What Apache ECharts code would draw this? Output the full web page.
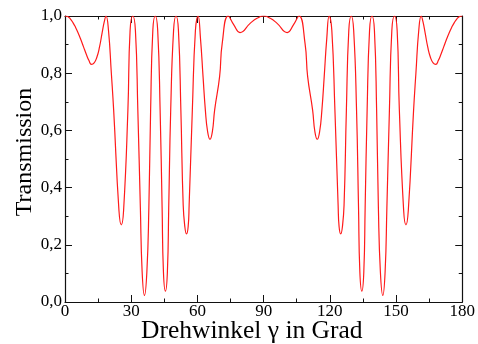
<!DOCTYPE html>
<html>
<head>
<meta charset="utf-8">
<script src="https://cdn.jsdelivr.net/npm/echarts@6/dist/echarts.min.js"></script>
<style>
  html, body { margin: 0; padding: 0; background: #fff; }
  #chart { width: 478px; height: 344px; }
</style>
</head>
<body>
<div id="chart"></div>
<script>
// Rotation angle γ in degrees
const angleDeg = [
  0, 1.2, 2.4, 3.6, 4.8, 6.0, 7.2, 8.4, 9.6, 10.8, 12.0, 13.2, 14.4, 15.6, 16.8, 17.8, 18.6,
  19.7, 21.0, 22.05, 24.45, 25.5, 26.55, 28.5, 29.5, 30.7,
  31.9, 33.0, 34.15, 34.95, 36.0, 37.1, 38.0, 38.8, 39.8, 40.9,
  42.0, 43.1, 44.0, 44.6, 45.5, 46.4, 47.0, 47.9, 49.2, 50.3,
  51.4, 52.5, 53.55, 54.3, 55.05, 55.8, 56.25, 57.7, 59.1, 60.3,
  61.4, 62.55, 63.6, 64.6, 65.7, 66.8, 67.8, 70.05, 71.25, 73.95,
  76.5, 79.3, 84.0, 87.0, 90.0,
  93.0, 96.0, 100.7, 103.5, 106.05,
  108.75, 109.95, 112.2, 113.2, 114.3, 115.4, 116.4, 117.45, 118.6, 119.7,
  120.9, 122.3, 123.75, 124.2, 124.95, 125.7, 126.45, 127.5, 128.6, 129.7,
  130.8, 132.1, 133.0, 133.6, 134.5, 135.4, 136.0, 136.9, 138.0, 139.1,
  140.2, 141.2, 142.0, 142.9, 144.0, 145.05, 145.85, 147.0, 148.1, 149.3,
  150.5, 151.5, 153.45, 154.5, 155.55, 157.95, 159.0, 160.3,
  161.4, 162.2, 163.2, 164.4, 165.6, 166.8, 168.0, 169.2, 170.4, 171.6, 172.8, 174.0, 175.2, 176.4, 177.6, 178.8, 180
];

// Transmission at each angle
const transmission = [
  1.0, 0.998, 0.99, 0.977, 0.96, 0.94, 0.917, 0.892, 0.867, 0.845, 0.831, 0.836, 0.855, 0.89, 0.94, 0.98, 1.0,
  0.95, 0.8, 0.671, 0.32, 0.27, 0.32, 0.671, 0.95, 1.0,
  0.95, 0.671, 0.33, 0.106, 0.023, 0.106, 0.33, 0.671, 0.95, 1.0,
  0.95, 0.671, 0.33, 0.106, 0.038, 0.106, 0.33, 0.671, 0.95, 1.0,
  0.95, 0.671, 0.339, 0.263, 0.238, 0.263, 0.339, 0.671, 0.95, 1.0,
  0.92, 0.788, 0.671, 0.597, 0.569, 0.597, 0.671, 0.788, 0.905, 1.0,
  0.969, 0.942, 0.975, 0.992, 1.0,
  0.992, 0.975, 0.942, 0.969, 1.0,
  0.905, 0.788, 0.671, 0.597, 0.569, 0.597, 0.671, 0.788, 0.92, 1.0,
  0.95, 0.671, 0.339, 0.263, 0.238, 0.263, 0.339, 0.671, 0.95, 1.0,
  0.95, 0.671, 0.33, 0.106, 0.038, 0.106, 0.33, 0.671, 0.95, 1.0,
  0.95, 0.671, 0.33, 0.106, 0.023, 0.106, 0.33, 0.671, 0.95, 1.0,
  0.95, 0.671, 0.32, 0.27, 0.32, 0.671, 0.8, 0.95,
  1.0, 0.98, 0.94, 0.89, 0.855, 0.836, 0.831, 0.845, 0.867, 0.892, 0.917, 0.94, 0.96, 0.977, 0.99, 0.998, 1.0
];

// Tick labels (German decimal comma)
const xTickValues = [0, 30, 60, 90, 120, 150, 180];
const xTickLabels = ['0', '30', '60', '90', '120', '150', '180'];
const yTickValues = [0, 0.2, 0.4, 0.6, 0.8, 1.0];
const yTickLabels = ['0,0', '0,2', '0,4', '0,6', '0,8', '1,0'];

const xTitle = 'Drehwinkel γ in Grad';
const yTitle = 'Transmission';

const FONT = '"Liberation Serif", "DejaVu Serif", serif';
const AXIS_COLOR = '#111';

function labelFor(values, labels, v) {
  for (let i = 0; i < values.length; i++) {
    if (Math.abs(values[i] - v) < 1e-6) return labels[i];
  }
  return '';
}

const points = angleDeg.map((a, i) => [a, transmission[i]]);

const frameAxis = {
  axisLine: { show: true, onZero: false, lineStyle: { color: AXIS_COLOR, width: 1.2 } },
  axisTick: { show: true, inside: true, length: 7, lineStyle: { color: AXIS_COLOR, width: 1 } },
  minorTick: { show: true, splitNumber: 2, length: 3.5, lineStyle: { color: AXIS_COLOR, width: 1 } },
  splitLine: { show: false }
};

const chart = echarts.init(document.getElementById('chart'), null, { renderer: 'canvas' });

chart.setOption({
  animation: false,
  backgroundColor: '#fff',
  grid: { left: 65, right: 13, top: 16, bottom: 42, containLabel: false },
  xAxis: [
    Object.assign({
      type: 'value', min: 0, max: 180, interval: 30, position: 'bottom',
      axisLabel: {
        show: true, margin: 1, color: '#000', fontFamily: FONT, fontSize: 17,
        formatter: v => labelFor(xTickValues, xTickLabels, v)
      }
    }, frameAxis),
    Object.assign({
      type: 'value', min: 0, max: 180, interval: 30, position: 'top',
      axisLabel: { show: false }
    }, frameAxis)
  ],
  yAxis: [
    Object.assign({
      type: 'value', min: 0, max: 1, interval: 0.2, position: 'left',
      axisLabel: {
        show: true, margin: 3, color: '#000', fontFamily: FONT, fontSize: 17,
        formatter: v => labelFor(yTickValues, yTickLabels, v)
      }
    }, frameAxis),
    Object.assign({
      type: 'value', min: 0, max: 1, interval: 0.2, position: 'right',
      axisLabel: { show: false }
    }, frameAxis)
  ],
  graphic: [
    {
      type: 'text', left: 141, top: 318,
      style: { text: xTitle, font: '25.5px ' + FONT, fill: '#000' }
    },
    {
      type: 'text', x: 13, y: 152, rotation: Math.PI / 2,
      style: { text: yTitle, font: '24px ' + FONT, fill: '#000', align: 'center', verticalAlign: 'top' }
    }
  ],
  series: [{
    type: 'line',
    data: points,
    xAxisIndex: 0,
    yAxisIndex: 0,
    showSymbol: false,
    smooth: 0.5,
    clip: true,
    lineStyle: { color: '#ff1a1a', width: 1.2 }
  }]
});
</script>
</body>
</html>
